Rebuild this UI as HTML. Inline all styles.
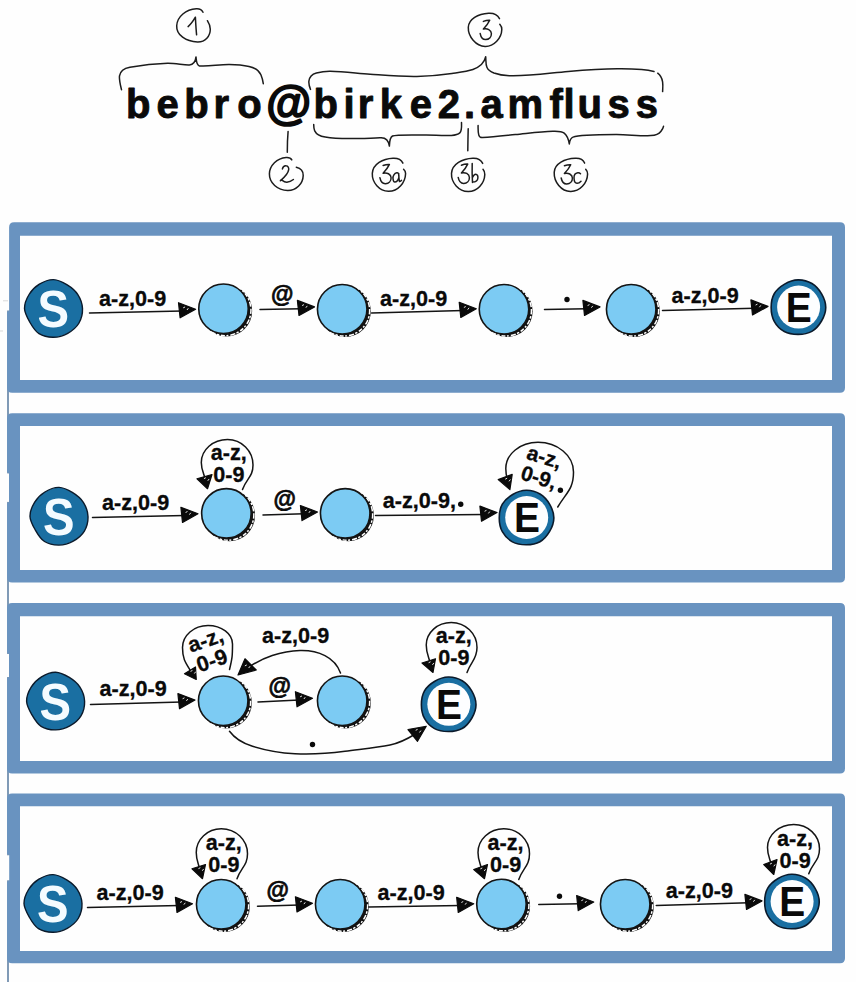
<!DOCTYPE html>
<html><head><meta charset="utf-8"><title>Email automata</title>
<style>
html,body{margin:0;padding:0;background:#fefefe;}
body{width:856px;height:982px;overflow:hidden;font-family:"Liberation Sans",sans-serif;}
svg{display:block;font-family:"Liberation Sans",sans-serif;}
</style></head><body>
<svg width="856" height="982" viewBox="0 0 856 982">
<rect width="856" height="982" fill="#fefefe"/>
<path d="M3,300.8 H8 M0,331 H3" stroke="#d9d9d9" stroke-width="1"/>
<rect x="7.1" y="310.5" width="1.8" height="672" fill="#7390ae"/>
<rect x="6" y="473.4" width="3.1" height="28.5" fill="#fefefe"/>
<rect x="6" y="654" width="3.1" height="23" fill="#fefefe"/>
<rect x="6" y="855.3" width="3.1" height="25" fill="#fefefe"/>
<!-- boxes -->
<path d="M14.1,222.3 H840 Q845,222.3 845,227.3 V387.7 Q845,392.7 840,392.7 H12.1 Q7.1,392.7 7.1,387.7 V312 L9.1,310.5 V227.3 Q9.1,222.3 14.1,222.3 Z M20,235.7 V380 H832 V235.7 Z" fill="#6993c0" fill-rule="evenodd"/>
<path d="M12.1,413.2 H840 Q845,413.2 845,418.2 V577.5 Q845,582.5 840,582.5 H12.1 Q7.1,582.5 7.1,577.5 V503.4 L9,501.9 V473.4 L7.1,471.9 V418.2 Q7.1,413.2 12.1,413.2 Z M20,426 V570 H832 V426 Z" fill="#6993c0" fill-rule="evenodd"/>
<path d="M12.1,603.1 H840 Q845,603.1 845,608.1 V768.5 Q845,773.5 840,773.5 H12.1 Q7.1,773.5 7.1,768.5 V678.5 L9,677 V654 L7.1,652.5 V608.1 Q7.1,603.1 12.1,603.1 Z M20,616.2 V761 H832 V616.2 Z" fill="#6993c0" fill-rule="evenodd"/>
<path d="M12.1,793.4 H840 Q845,793.4 845,798.4 V958.3 Q845,963.3 840,963.3 H12.1 Q7.1,963.3 7.1,958.3 V881.8 L9.2,880.3 V855.3 L7.1,853.8 V798.4 Q7.1,793.4 12.1,793.4 Z M20,806.2 V951.1 H832 V806.2 Z" fill="#6993c0" fill-rule="evenodd"/>
<!-- header -->
<g stroke="#1c1c1c" stroke-width="1.5" fill="none" stroke-linecap="round" stroke-linejoin="round">
<path d="M121.5,89.7 C120.4,85 119,80 119.5,75.8 C120.3,70.5 124,68.3 129.9,67.2 C142,65 155,63.6 167.6,63.3 C176,63.2 184,65.2 189.4,64.9 C194.6,64.5 195.6,60.5 196,56.9 C196.4,61 196.4,65.3 199.4,65.9 C208,66.8 219,64.4 229.2,64.5 C236,64.6 243,65.1 249,66.4 C255.5,67.8 259,70.5 260.9,74.8 C262.2,77.8 262.9,81 263.3,83.7"/>
<path d="M203,12.3 C201.6,9.2 199.5,8.6 196.3,8.8 C186,9.4 177.3,16.5 176.7,25.7 C176.2,35 186,41.6 197.5,42 C205.5,42.2 210.2,36 210.3,29.2 C210.3,26 209,23.2 207.4,20.7"/>
<path d="M188.1,26.6 C191,24.2 193.4,20.6 195.4,17.2 C195.7,23 196,29 196.6,34.8"/>
<path d="M288.1,131.4 C287.5,138 287.3,145 287.3,152.2"/>
<path d="M291.8,159.9 C290.6,157.6 288.6,157.3 286.1,157.5 C277,158.2 269.6,165.5 269.4,173.8 C269.2,183 277.5,190.3 287.7,190.5 C296.5,190.6 303,183.5 303.2,175.4 C303.3,171 300,168.2 296.3,167.3"/>
<path d="M282.4,168.9 C283,166.6 284.6,165.6 286.1,165.8 C288,166 289,167.6 288.7,169.7 C288,174.5 283.6,178 280.4,180.7 C280.6,179.8 281.3,179.6 281.9,180.1 C283.4,181.3 285,182.4 286.9,182.3 C289.4,182.1 291.6,180.9 293.4,179.5"/>
<path d="M310.5,89.4 C309.3,86.5 308.6,84 308.9,81.2 C309.4,76.8 312,74.2 316.4,73 C320.5,71.9 325.5,71.1 330.4,71.2 C344,71.6 357,73.3 370.1,74.2 C385.5,75.3 401,76.8 416.8,76.5 C428.6,76.2 440.5,75.2 451.9,73.5 C459.2,72.4 467,71.5 472.9,69.5 C480.5,66.8 484.6,62 485.7,56.7 C486,60.5 485.6,64.3 486.9,67.2 C488.2,70.2 490.8,71.8 493.9,73 C498.6,74.7 504,75.5 509.3,75.7 C529,76.3 548.5,73.2 568.1,71.5 C584.4,70.1 600.8,68.9 617.2,68.8 C625.4,68.7 633.6,68.9 641.7,69.5 C645.9,69.9 650,70.5 654,71.5"/>
<path d="M657.7,73.2 C660.5,75.3 662,78.4 662.6,81.8 C663.1,85 662.8,88.4 662.6,91.6"/>
<path d="M499.5,18.6 C497.2,14.2 493.5,12.9 488.6,13.2 C478,13.8 468.7,19 468.3,27.3 C467.9,36.5 476,46.2 485.1,46.4 C494,46.6 501.6,38 501.8,29.4 C501.9,27.4 501,25.6 499.8,24.2"/>
<path transform="translate(0,0)" d="M483.4,21.4 C485.4,20.6 487.7,20.2 489.7,20.3 C488.2,23.6 485.8,26.6 483.4,29.1 C487.2,28.2 491.3,29.9 491.4,33.6 C491.5,37.2 488.9,39.5 485.8,39.6 C482.8,39.7 480.8,36.8 480.2,33.6"/>
<path d="M313.7,124.5 C313.7,126.8 313.8,129 314.7,130.8 C316.5,134.6 320.6,136.3 325.2,137.1 C334,138.6 343.5,138.7 352.6,138.6 C361.7,138.5 371,138.6 379.9,137.7 C385.8,137.1 388.6,140.5 389.4,146.1 C389.6,141.5 389.6,137.6 392.5,136 C396,134.4 414.5,135 426.2,135 C434.6,135 443,135.9 451.4,135.4 C454.8,135.2 458,134.6 459.8,132.9 C462,130.8 461.6,126 461.5,122.4"/>
<path d="M402.9,163.1 C401,159 397.5,158 393,158.2 C383,158.6 372.8,164 372.3,173.4 C371.9,182.6 379.4,191 388.4,191.2 C397.8,191.4 405.4,182.8 405.6,173.4 C405.6,171.8 404.8,170.4 403.6,169.3"/>
<path transform="translate(-100.3,144.1)" d="M483.4,21.4 C485.4,20.6 487.7,20.2 489.7,20.3 C488.2,23.6 485.8,26.6 483.4,29.1 C487.2,28.2 491.3,29.9 491.4,33.6 C491.5,37.2 488.9,39.5 485.8,39.6 C482.8,39.7 480.8,36.8 480.2,33.6"/>
<path d="M398.6,173.6 C398,172.8 397.4,172.7 396.8,172.8 C394.4,173.3 392.7,176 393,178.6 C393.2,180.7 393.7,182 394.8,182.1 C396.8,182.2 398.3,179.6 398.9,177.5 C399,176.2 398.8,174.8 398.6,173.4 C398.8,176.2 398.9,179 399.5,181.5 C400.3,181.6 401,181.1 401.5,180.4"/>
<path d="M468.2,128.7 C468,136 467.9,143.5 467.8,150.8"/>
<path d="M482.7,163.4 C480.8,159.2 477.3,158 472.8,158.2 C462.5,158.6 452,164 451.5,173.4 C451.1,182.8 458.8,191.3 468.1,191.5 C477.2,191.7 484.5,183.6 484.8,174.5 C484.9,172.5 484.2,170.7 483,169.3"/>
<path transform="translate(-22,143.8)" d="M483.4,21.4 C485.4,20.6 487.7,20.2 489.7,20.3 C488.2,23.6 485.8,26.6 483.4,29.1 C487.2,28.2 491.3,29.9 491.4,33.6 C491.5,37.2 488.9,39.5 485.8,39.6 C482.8,39.7 480.8,36.8 480.2,33.6"/>
<path d="M472.2,163.4 C472,169.8 472.1,176 472.5,182.4 M472.5,177.5 C473.2,175.8 474.3,174.2 475.7,174.2 C477.4,174.2 478,176 477.9,178 C477.7,180.6 475,182 472.5,182.1"/>
<path d="M478.1,125.6 C478,128.8 478,132 478.8,135.1 C479.3,137 480.6,137.7 482.6,137.6 C493.5,137 504.4,135.7 515.3,134.6 C527.8,133.4 540.4,131.6 552.9,131.3 C557,131.2 561.6,131 564.2,133.1 C567.4,135.7 568.6,139.6 569.3,143.9 C569.7,140.8 570.4,138 573,137.1 C577,135.7 601.6,134.7 615.8,134.6 C627.5,134.5 639.3,136 650.9,135.6 C655,135.5 658.8,134.3 661,131.3 C662.2,129.7 663.2,128 663.5,126.3"/>
<path d="M584.6,163.1 C583,159 579.6,158 575.2,158.2 C564.8,158.6 554.6,163.4 554.2,172.2 C553.8,182 561.3,191.3 570.5,191.5 C579.8,191.7 587.3,183.4 587.6,174 C587.7,172.2 586.9,170.6 585.7,169.3"/>
<path transform="translate(81,144.4)" d="M483.4,21.4 C485.4,20.6 487.7,20.2 489.7,20.3 C488.2,23.6 485.8,26.6 483.4,29.1 C487.2,28.2 491.3,29.9 491.4,33.6 C491.5,37.2 488.9,39.5 485.8,39.6 C482.8,39.7 480.8,36.8 480.2,33.6"/>
<path d="M580.5,173.7 C579.7,172.9 578.8,172.7 577.8,172.8 C575.3,173.2 573.9,175.6 574,178 C574.1,180.8 575,183.2 577,183.3 C578.7,183.4 580,182.3 581,181.2"/>
</g>
<g font-size="40" font-weight="700" fill="#0a0a0a" stroke="#0a0a0a" stroke-width="0.9" stroke-linejoin="round">
<text x="126.07" y="117.5">b</text>
<text x="156.5" y="117.5">e</text>
<text x="184.32" y="117.5">b</text>
<text x="213.57" y="117.5">r</text>
<text x="237.13" y="117.5">o</text>
<text x="266.2" y="119.3" font-size="46" stroke-width="1.7">&#64;</text>
<text x="313.57" y="117.5">b</text>
<text x="343.57" y="117.5">i</text>
<text x="357.82" y="117.5">r</text>
<text x="379.82" y="117.5">k</text>
<text x="409.75" y="117.5">e</text>
<text x="437.75" y="117.5">2</text>
<text x="464.1" y="117.5">.</text>
<text x="480.52" y="117.5">a</text>
<text x="507.52" y="117.5">m</text>
<text x="549.57" y="117.5">f</text>
<text x="563.57" y="117.5">l</text>
<text x="577.42" y="117.5">u</text>
<text x="607.52" y="117.5">s</text>
<text x="635.77" y="117.5">s</text>
</g>
<!-- row 1 -->
<path d="M82.5,308.6 C82.67,313.38 81.33,319.14 78.87,323.25 C76.42,327.36 71.98,330.94 67.75,333.28 C63.52,335.62 58.29,337.23 53.5,337.3 C48.71,337.37 42.94,336.22 39,333.71 C35.06,331.21 32.27,326.44 29.86,322.25 C27.44,318.06 24.63,313.22 24.5,308.6 C24.37,303.97 26.59,298.57 29.08,294.5 C31.56,290.43 35.33,286.66 39.4,284.18 C43.47,281.69 48.87,279.48 53.5,279.6 C58.13,279.72 63.14,282.38 67.2,284.87 C71.26,287.36 75.29,290.6 77.84,294.55 C80.39,298.5 82.33,303.82 82.5,308.6 Z" fill="#1a6fa2" stroke="#0b1a2b" stroke-width="1.4"/>
<text transform="translate(53.25,308.6) scale(0.965,1.066)" x="0" y="17.3" font-size="49" font-weight="700" fill="#f4fbff" text-anchor="middle">S</text>
<path d="M89.5,313 L182.3,311" stroke="#141414" stroke-width="1.5" fill="none" stroke-linecap="round"/>
<path d="M178.5,302.7 L180.1,317.8 L195.6,309.2 Z" fill="#0a0a0a" stroke="#0a0a0a" stroke-width="1.2" stroke-linejoin="round"/>
<path d="M183.53,307.7 l1.2,-0.6 M187.23,309.7 l0.9,-1.2" stroke="#fff" stroke-width="0.9" fill="none" stroke-linecap="round"/>
<text x="99" y="305.75" font-size="21.6" font-weight="700" fill="#0a0a0a" stroke="#0a0a0a" stroke-width="0.3" text-anchor="start">a-z,0-9</text>
<circle cx="226.5" cy="310.9" r="25.65" fill="#111"/>
<circle cx="225.4" cy="310.1" r="25.55" fill="none" stroke="#fff" stroke-width="1.5" stroke-dasharray="4 1.8 2.4 1.4 5 2 2 1.6" />
<circle cx="223.5" cy="308.8" r="24.75" fill="#7ccbf3" stroke="#141414" stroke-width="1.6"/>
<path d="M260,309.6 L301.2,308.7" stroke="#141414" stroke-width="1.5" fill="none" stroke-linecap="round"/>
<path d="M297.4,300.4 L299,315.5 L314.5,306.9 Z" fill="#0a0a0a" stroke="#0a0a0a" stroke-width="1.2" stroke-linejoin="round"/>
<path d="M302.43,305.4 l1.2,-0.6 M306.13,307.4 l0.9,-1.2" stroke="#fff" stroke-width="0.9" fill="none" stroke-linecap="round"/>
<text x="271.1" y="301.7" font-size="23" font-weight="700" fill="#0a0a0a" stroke="#0a0a0a" stroke-width="0.7" text-anchor="start">&#64;</text>
<circle cx="345.2" cy="311.3" r="25.65" fill="#111"/>
<circle cx="344.1" cy="310.5" r="25.55" fill="none" stroke="#fff" stroke-width="1.5" stroke-dasharray="4 1.8 2.4 1.4 5 2 2 1.6" />
<circle cx="342.2" cy="309.2" r="24.75" fill="#7ccbf3" stroke="#141414" stroke-width="1.6"/>
<path d="M371.5,313 L463,310.6" stroke="#141414" stroke-width="1.5" fill="none" stroke-linecap="round"/>
<path d="M459.2,302.3 L460.8,317.4 L476.3,308.8 Z" fill="#0a0a0a" stroke="#0a0a0a" stroke-width="1.2" stroke-linejoin="round"/>
<path d="M464.23,307.3 l1.2,-0.6 M467.93,309.3 l0.9,-1.2" stroke="#fff" stroke-width="0.9" fill="none" stroke-linecap="round"/>
<text x="380" y="305.75" font-size="21.6" font-weight="700" fill="#0a0a0a" stroke="#0a0a0a" stroke-width="0.3" text-anchor="start">a-z,0-9</text>
<circle cx="507" cy="311.3" r="25.65" fill="#111"/>
<circle cx="505.9" cy="310.5" r="25.55" fill="none" stroke="#fff" stroke-width="1.5" stroke-dasharray="4 1.8 2.4 1.4 5 2 2 1.6" />
<circle cx="504" cy="309.2" r="24.75" fill="#7ccbf3" stroke="#141414" stroke-width="1.6"/>
<path d="M544.5,309.6 L586.7,308.7" stroke="#141414" stroke-width="1.5" fill="none" stroke-linecap="round"/>
<path d="M582.9,300.4 L584.5,315.5 L600,306.9 Z" fill="#0a0a0a" stroke="#0a0a0a" stroke-width="1.2" stroke-linejoin="round"/>
<path d="M587.93,305.4 l1.2,-0.6 M591.63,307.4 l0.9,-1.2" stroke="#fff" stroke-width="0.9" fill="none" stroke-linecap="round"/>
<circle cx="567" cy="299.5" r="2.7" fill="#0a0a0a"/>
<circle cx="634.2" cy="311.3" r="25.65" fill="#111"/>
<circle cx="633.1" cy="310.5" r="25.55" fill="none" stroke="#fff" stroke-width="1.5" stroke-dasharray="4 1.8 2.4 1.4 5 2 2 1.6" />
<circle cx="631.2" cy="309.2" r="24.75" fill="#7ccbf3" stroke="#141414" stroke-width="1.6"/>
<path d="M662.5,310.6 L754.7,308.2" stroke="#141414" stroke-width="1.5" fill="none" stroke-linecap="round"/>
<path d="M750.9,299.9 L752.5,315 L768,306.4 Z" fill="#0a0a0a" stroke="#0a0a0a" stroke-width="1.2" stroke-linejoin="round"/>
<path d="M755.93,304.9 l1.2,-0.6 M759.63,306.9 l0.9,-1.2" stroke="#fff" stroke-width="0.9" fill="none" stroke-linecap="round"/>
<text x="671.5" y="303" font-size="21.6" font-weight="700" fill="#0a0a0a" stroke="#0a0a0a" stroke-width="0.3" text-anchor="start">a-z,0-9</text>
<path d="M825.75,307.5 C825.74,312.02 823.84,317.05 821.53,321.02 C819.21,325 815.78,329.14 811.88,331.36 C807.97,333.58 802.7,334.34 798.1,334.35 C793.5,334.36 788.25,333.62 784.27,331.45 C780.3,329.27 776.43,325.27 774.24,321.27 C772.05,317.28 771.15,312.09 771.15,307.5 C771.15,302.91 772,297.63 774.24,293.73 C776.48,289.82 780.6,286.39 784.58,284.07 C788.55,281.76 793.54,279.94 798.1,279.85 C802.66,279.76 808.01,281.21 811.93,283.55 C815.84,285.9 819.31,289.93 821.61,293.93 C823.92,297.92 825.76,302.98 825.75,307.5 Z" fill="#1a6fa2" stroke="#0b1a2b" stroke-width="1.6"/>
<circle cx="798.6" cy="307.1" r="21.5" fill="#fdfeff"/>
<text transform="translate(798.8,307.1) scale(0.96,1.045)" x="0" y="14" font-size="40.5" font-weight="700" fill="#0a0a0a" text-anchor="middle">E</text>
<!-- row 2 -->
<path d="M88,516.4 C88.17,521.18 86.83,526.94 84.37,531.05 C81.92,535.16 77.48,538.74 73.25,541.08 C69.02,543.42 63.79,545.03 59,545.1 C54.21,545.17 48.44,544.02 44.5,541.51 C40.56,539.01 37.77,534.24 35.36,530.05 C32.94,525.86 30.13,521.02 30,516.4 C29.87,511.77 32.09,506.37 34.58,502.3 C37.06,498.23 40.83,494.46 44.9,491.98 C48.97,489.49 54.37,487.28 59,487.4 C63.63,487.52 68.64,490.18 72.7,492.67 C76.76,495.16 80.79,498.4 83.34,502.35 C85.89,506.3 87.83,511.62 88,516.4 Z" fill="#1a6fa2" stroke="#0b1a2b" stroke-width="1.4"/>
<text transform="translate(58.75,516.4) scale(0.965,1.066)" x="0" y="17.3" font-size="49" font-weight="700" fill="#f4fbff" text-anchor="middle">S</text>
<path d="M92.5,517.6 L184.7,515.6" stroke="#141414" stroke-width="1.5" fill="none" stroke-linecap="round"/>
<path d="M180.9,507.3 L182.5,522.4 L198,513.8 Z" fill="#0a0a0a" stroke="#0a0a0a" stroke-width="1.2" stroke-linejoin="round"/>
<path d="M185.93,512.3 l1.2,-0.6 M189.63,514.3 l0.9,-1.2" stroke="#fff" stroke-width="0.9" fill="none" stroke-linecap="round"/>
<text x="102" y="509.5" font-size="21.6" font-weight="700" fill="#0a0a0a" stroke="#0a0a0a" stroke-width="0.3" text-anchor="start">a-z,0-9</text>
<circle cx="229.4" cy="515.5" r="25.65" fill="#111"/>
<circle cx="228.3" cy="514.7" r="25.55" fill="none" stroke="#fff" stroke-width="1.5" stroke-dasharray="4 1.8 2.4 1.4 5 2 2 1.6" />
<circle cx="226.4" cy="513.4" r="24.75" fill="#7ccbf3" stroke="#141414" stroke-width="1.6"/>
<path d="M242.5,489.5 C246.46,478.18 253,476.99 253,465 C253,450.92 241.58,439.5 227.5,439.5 C213.03,439.5 201.3,449.8 201.3,462.5 C201.3,472.45 205.02,474.16 206.5,484" stroke="#141414" stroke-width="1.5" fill="none" stroke-linecap="round"/>
<path d="M197,478.75 L212,474.5 L207.5,488.75 Z" fill="#0a0a0a" stroke="#0a0a0a" stroke-width="1.2" stroke-linejoin="round"/>
<path d="M204.3,478.47 l1.2,-0.6 M208,480.47 l0.9,-1.2" stroke="#fff" stroke-width="0.9" fill="none" stroke-linecap="round"/>
<text x="210.8" y="460" font-size="21.6" font-weight="700" fill="#0a0a0a" stroke="#0a0a0a" stroke-width="0.3" text-anchor="start">a-z,</text>
<text x="213.3" y="482" font-size="21.6" font-weight="700" fill="#0a0a0a" stroke="#0a0a0a" stroke-width="0.3" text-anchor="start">0-9</text>
<path d="M263,515 L304.2,513.8" stroke="#141414" stroke-width="1.5" fill="none" stroke-linecap="round"/>
<path d="M300.4,505.5 L302,520.6 L317.5,512 Z" fill="#0a0a0a" stroke="#0a0a0a" stroke-width="1.2" stroke-linejoin="round"/>
<path d="M305.43,510.5 l1.2,-0.6 M309.13,512.5 l0.9,-1.2" stroke="#fff" stroke-width="0.9" fill="none" stroke-linecap="round"/>
<text x="273.6" y="507.3" font-size="23" font-weight="700" fill="#0a0a0a" stroke="#0a0a0a" stroke-width="0.7" text-anchor="start">&#64;</text>
<circle cx="348.2" cy="515.5" r="25.65" fill="#111"/>
<circle cx="347.1" cy="514.7" r="25.55" fill="none" stroke="#fff" stroke-width="1.5" stroke-dasharray="4 1.8 2.4 1.4 5 2 2 1.6" />
<circle cx="345.2" cy="513.4" r="24.75" fill="#7ccbf3" stroke="#141414" stroke-width="1.6"/>
<path d="M375.5,515.6 L483.7,514.4" stroke="#141414" stroke-width="1.5" fill="none" stroke-linecap="round"/>
<path d="M479.9,506.1 L481.5,521.2 L497,512.6 Z" fill="#0a0a0a" stroke="#0a0a0a" stroke-width="1.2" stroke-linejoin="round"/>
<path d="M484.93,511.1 l1.2,-0.6 M488.63,513.1 l0.9,-1.2" stroke="#fff" stroke-width="0.9" fill="none" stroke-linecap="round"/>
<text x="382.8" y="508" font-size="21.6" font-weight="700" fill="#0a0a0a" stroke="#0a0a0a" stroke-width="0.3" text-anchor="start">a-z,0-9,</text>
<circle cx="460.75" cy="504.25" r="2.7" fill="#0a0a0a"/>
<path d="M553.85,517.9 C553.84,522.42 551.94,527.45 549.63,531.43 C547.31,535.4 543.88,539.54 539.98,541.76 C536.07,543.98 530.8,544.74 526.2,544.75 C521.6,544.76 516.35,544.02 512.38,541.85 C508.4,539.67 504.53,535.67 502.34,531.68 C500.15,527.68 499.25,522.49 499.25,517.9 C499.25,513.31 500.1,508.03 502.34,504.13 C504.58,500.22 508.7,496.79 512.68,494.47 C516.65,492.16 521.64,490.34 526.2,490.25 C530.76,490.16 536.11,491.61 540.03,493.95 C543.94,496.3 547.41,500.33 549.71,504.33 C552.02,508.32 553.86,513.38 553.85,517.9 Z" fill="#1a6fa2" stroke="#0b1a2b" stroke-width="1.6"/>
<circle cx="526.7" cy="517.5" r="21.5" fill="#fdfeff"/>
<text transform="translate(526.9,517.5) scale(0.96,1.045)" x="0" y="14" font-size="40.5" font-weight="700" fill="#0a0a0a" text-anchor="middle">E</text>
<path d="M557.75,507 C566.64,492.19 573.5,489.27 573.5,472 C573.5,455.6 557.61,442.3 538,442.3 C520.22,442.3 505.8,454.03 505.8,468.5 C505.8,476.03 507.12,477.62 508.6,485" stroke="#141414" stroke-width="1.5" fill="none" stroke-linecap="round"/>
<path d="M498.2,479.6 L512.2,474.4 L509.9,489.6 Z" fill="#0a0a0a" stroke="#0a0a0a" stroke-width="1.2" stroke-linejoin="round"/>
<path d="M505.57,479 l1.2,-0.6 M509.27,481 l0.9,-1.2" stroke="#fff" stroke-width="0.9" fill="none" stroke-linecap="round"/>
<text x="525.6" y="458.8" font-size="21" font-weight="700" fill="#0a0a0a" stroke="#0a0a0a" stroke-width="0.3" text-anchor="start" transform="rotate(17 525.6 458.8)">a-z,</text>
<text x="519.4" y="479" font-size="21" font-weight="700" fill="#0a0a0a" stroke="#0a0a0a" stroke-width="0.3" text-anchor="start" transform="rotate(17 519.4 479)">0-9,</text>
<circle cx="560.4" cy="490.2" r="2.7" fill="#0a0a0a"/>
<!-- row 3 -->
<path d="M84.6,701.2 C84.77,705.98 83.43,711.74 80.97,715.85 C78.52,719.96 74.08,723.54 69.85,725.88 C65.62,728.22 60.39,729.83 55.6,729.9 C50.81,729.97 45.04,728.82 41.1,726.31 C37.16,723.81 34.37,719.04 31.96,714.85 C29.54,710.66 26.73,705.82 26.6,701.2 C26.47,696.57 28.69,691.17 31.18,687.1 C33.66,683.03 37.43,679.26 41.5,676.78 C45.57,674.29 50.97,672.08 55.6,672.2 C60.23,672.32 65.24,674.98 69.3,677.47 C73.36,679.96 77.39,683.2 79.94,687.15 C82.49,691.1 84.43,696.42 84.6,701.2 Z" fill="#1a6fa2" stroke="#0b1a2b" stroke-width="1.4"/>
<text transform="translate(55.35,701.2) scale(0.965,1.066)" x="0" y="17.3" font-size="49" font-weight="700" fill="#f4fbff" text-anchor="middle">S</text>
<path d="M90.5,704.5 L181.7,701.9" stroke="#141414" stroke-width="1.5" fill="none" stroke-linecap="round"/>
<path d="M177.9,693.6 L179.5,708.7 L195,700.1 Z" fill="#0a0a0a" stroke="#0a0a0a" stroke-width="1.2" stroke-linejoin="round"/>
<path d="M182.93,698.6 l1.2,-0.6 M186.63,700.6 l0.9,-1.2" stroke="#fff" stroke-width="0.9" fill="none" stroke-linecap="round"/>
<text x="99.5" y="696.25" font-size="21.6" font-weight="700" fill="#0a0a0a" stroke="#0a0a0a" stroke-width="0.3" text-anchor="start">a-z,0-9</text>
<circle cx="226.2" cy="702.9" r="25.65" fill="#111"/>
<circle cx="225.1" cy="702.1" r="25.55" fill="none" stroke="#fff" stroke-width="1.5" stroke-dasharray="4 1.8 2.4 1.4 5 2 2 1.6" />
<circle cx="223.2" cy="700.8" r="24.75" fill="#7ccbf3" stroke="#141414" stroke-width="1.6"/>
<path d="M229.5,669.5 C232.3,658.29 232.5,655.55 232.5,644 C232.5,633.78 221.53,625.5 208,625.5 C193.92,625.5 182.5,635.35 182.5,647.5 C182.5,661.04 186.54,663.89 193.5,675.5" stroke="#141414" stroke-width="1.5" fill="none" stroke-linecap="round"/>
<path d="M184.5,673.75 L195.5,667 L196.25,679.5 Z" fill="#0a0a0a" stroke="#0a0a0a" stroke-width="1.2" stroke-linejoin="round"/>
<path d="M190.88,671.22 l1.2,-0.6 M194.58,673.22 l0.9,-1.2" stroke="#fff" stroke-width="0.9" fill="none" stroke-linecap="round"/>
<text x="190.8" y="652.8" font-size="21.6" font-weight="700" fill="#0a0a0a" stroke="#0a0a0a" stroke-width="0.3" text-anchor="start" transform="rotate(-19 190.8 652.8)">a-z,</text>
<text x="199.6" y="672.6" font-size="21.6" font-weight="700" fill="#0a0a0a" stroke="#0a0a0a" stroke-width="0.3" text-anchor="start" transform="rotate(-19 199.6 672.6)">0-9</text>
<path d="M340.5,673 C335,657 318,650 300,650.5 C281,651 262,658 249,667" stroke="#141414" stroke-width="1.5" fill="none" stroke-linecap="round"/>
<path d="M245,658.75 L256.25,670 L238,675 Z" fill="#0a0a0a" stroke="#0a0a0a" stroke-width="1.2" stroke-linejoin="round"/>
<path d="M245.22,665.72 l1.2,-0.6 M248.92,667.72 l0.9,-1.2" stroke="#fff" stroke-width="0.9" fill="none" stroke-linecap="round"/>
<text x="262" y="642.5" font-size="21.6" font-weight="700" fill="#0a0a0a" stroke="#0a0a0a" stroke-width="0.3" text-anchor="start">a-z,0-9</text>
<path d="M258,702 L299.2,700" stroke="#141414" stroke-width="1.5" fill="none" stroke-linecap="round"/>
<path d="M295.4,691.7 L297,706.8 L312.5,698.2 Z" fill="#0a0a0a" stroke="#0a0a0a" stroke-width="1.2" stroke-linejoin="round"/>
<path d="M300.43,696.7 l1.2,-0.6 M304.13,698.7 l0.9,-1.2" stroke="#fff" stroke-width="0.9" fill="none" stroke-linecap="round"/>
<text x="268.6" y="693.7" font-size="23" font-weight="700" fill="#0a0a0a" stroke="#0a0a0a" stroke-width="0.7" text-anchor="start">&#64;</text>
<circle cx="345.2" cy="702.9" r="25.65" fill="#111"/>
<circle cx="344.1" cy="702.1" r="25.55" fill="none" stroke="#fff" stroke-width="1.5" stroke-dasharray="4 1.8 2.4 1.4 5 2 2 1.6" />
<circle cx="342.2" cy="700.8" r="24.75" fill="#7ccbf3" stroke="#141414" stroke-width="1.6"/>
<path d="M229.5,731.25 C236,740 243.5,743.5 252.5,746.25 C266,750.5 280.5,753 295,753.75 C312,754.6 329,753.4 345,751.25 C360,749.2 376,747.6 390,745 C400,743 408,738.5 414.5,734.5" stroke="#141414" stroke-width="1.5" fill="none" stroke-linecap="round"/>
<path d="M408,729.5 L417.5,741.25 L426.25,726.25 Z" fill="#0a0a0a" stroke="#0a0a0a" stroke-width="1.2" stroke-linejoin="round"/>
<path d="M416.05,730.13 l1.2,-0.6 M419.75,732.13 l0.9,-1.2" stroke="#fff" stroke-width="0.9" fill="none" stroke-linecap="round"/>
<circle cx="312.5" cy="744.5" r="2.7" fill="#0a0a0a"/>
<path d="M476,704.7 C475.99,709.22 474.09,714.25 471.78,718.23 C469.46,722.2 466.03,726.34 462.12,728.56 C458.22,730.78 452.95,731.54 448.35,731.55 C443.75,731.56 438.5,730.82 434.53,728.65 C430.55,726.47 426.68,722.47 424.49,718.48 C422.3,714.48 421.4,709.29 421.4,704.7 C421.4,700.11 422.25,694.83 424.49,690.93 C426.73,687.02 430.85,683.59 434.82,681.27 C438.8,678.96 443.79,677.14 448.35,677.05 C452.91,676.96 458.26,678.41 462.18,680.75 C466.09,683.1 469.56,687.13 471.86,691.12 C474.17,695.12 476.01,700.18 476,704.7 Z" fill="#1a6fa2" stroke="#0b1a2b" stroke-width="1.6"/>
<circle cx="448.85" cy="704.3" r="21.5" fill="#fdfeff"/>
<text transform="translate(449.05,704.3) scale(0.96,1.045)" x="0" y="14" font-size="40.5" font-weight="700" fill="#0a0a0a" text-anchor="middle">E</text>
<path d="M467,672.5 C471,661.06 477,659.62 477,647.5 C477,633.69 465.47,622.5 451.25,622.5 C437.44,622.5 426.25,632.57 426.25,645 C426.25,655.13 429.5,656.98 431,667" stroke="#141414" stroke-width="1.5" fill="none" stroke-linecap="round"/>
<path d="M422,663 L435.5,658.75 L433,672.5 Z" fill="#0a0a0a" stroke="#0a0a0a" stroke-width="1.2" stroke-linejoin="round"/>
<path d="M428.97,662.55 l1.2,-0.6 M432.67,664.55 l0.9,-1.2" stroke="#fff" stroke-width="0.9" fill="none" stroke-linecap="round"/>
<text x="435.8" y="643.25" font-size="21.6" font-weight="700" fill="#0a0a0a" stroke="#0a0a0a" stroke-width="0.3" text-anchor="start">a-z,</text>
<text x="438.3" y="665" font-size="21.6" font-weight="700" fill="#0a0a0a" stroke="#0a0a0a" stroke-width="0.3" text-anchor="start">0-9</text>
<!-- row 4 -->
<path d="M82,903.6 C82.17,908.38 80.83,914.14 78.37,918.25 C75.92,922.36 71.48,925.94 67.25,928.28 C63.02,930.62 57.79,932.23 53,932.3 C48.21,932.37 42.44,931.22 38.5,928.71 C34.56,926.21 31.77,921.44 29.36,917.25 C26.94,913.06 24.13,908.23 24,903.6 C23.87,898.98 26.09,893.57 28.58,889.5 C31.06,885.43 34.83,881.66 38.9,879.18 C42.97,876.69 48.37,874.48 53,874.6 C57.63,874.72 62.64,877.38 66.7,879.87 C70.76,882.36 74.79,885.6 77.34,889.55 C79.89,893.5 81.83,898.82 82,903.6 Z" fill="#1a6fa2" stroke="#0b1a2b" stroke-width="1.4"/>
<text transform="translate(52.75,903.6) scale(0.965,1.066)" x="0" y="17.3" font-size="49" font-weight="700" fill="#f4fbff" text-anchor="middle">S</text>
<path d="M87.5,907.6 L179.2,905.6" stroke="#141414" stroke-width="1.5" fill="none" stroke-linecap="round"/>
<path d="M175.4,897.3 L177,912.4 L192.5,903.8 Z" fill="#0a0a0a" stroke="#0a0a0a" stroke-width="1.2" stroke-linejoin="round"/>
<path d="M180.43,902.3 l1.2,-0.6 M184.13,904.3 l0.9,-1.2" stroke="#fff" stroke-width="0.9" fill="none" stroke-linecap="round"/>
<text x="96.5" y="899.5" font-size="21.6" font-weight="700" fill="#0a0a0a" stroke="#0a0a0a" stroke-width="0.3" text-anchor="start">a-z,0-9</text>
<circle cx="224.2" cy="906.4" r="25.65" fill="#111"/>
<circle cx="223.1" cy="905.6" r="25.55" fill="none" stroke="#fff" stroke-width="1.5" stroke-dasharray="4 1.8 2.4 1.4 5 2 2 1.6" />
<circle cx="221.2" cy="904.3" r="24.75" fill="#7ccbf3" stroke="#141414" stroke-width="1.6"/>
<path d="M237,878.75 C241.03,867.23 247.5,865.95 247.5,853.75 C247.5,839.94 235.75,828.75 221.25,828.75 C207.44,828.75 196.25,839.38 196.25,852.5 C196.25,861.92 199.1,863.68 200.5,873" stroke="#141414" stroke-width="1.5" fill="none" stroke-linecap="round"/>
<path d="M192,868.75 L205.5,864.5 L202.5,878.75 Z" fill="#0a0a0a" stroke="#0a0a0a" stroke-width="1.2" stroke-linejoin="round"/>
<path d="M198.8,868.47 l1.2,-0.6 M202.5,870.47 l0.9,-1.2" stroke="#fff" stroke-width="0.9" fill="none" stroke-linecap="round"/>
<text x="205.8" y="850" font-size="21.6" font-weight="700" fill="#0a0a0a" stroke="#0a0a0a" stroke-width="0.3" text-anchor="start">a-z,</text>
<text x="208.3" y="872" font-size="21.6" font-weight="700" fill="#0a0a0a" stroke="#0a0a0a" stroke-width="0.3" text-anchor="start">0-9</text>
<path d="M257.5,906.3 L299.2,905.1" stroke="#141414" stroke-width="1.5" fill="none" stroke-linecap="round"/>
<path d="M295.4,896.8 L297,911.9 L312.5,903.3 Z" fill="#0a0a0a" stroke="#0a0a0a" stroke-width="1.2" stroke-linejoin="round"/>
<path d="M300.43,901.8 l1.2,-0.6 M304.13,903.8 l0.9,-1.2" stroke="#fff" stroke-width="0.9" fill="none" stroke-linecap="round"/>
<text x="266.6" y="898.3" font-size="23" font-weight="700" fill="#0a0a0a" stroke="#0a0a0a" stroke-width="0.7" text-anchor="start">&#64;</text>
<circle cx="343.2" cy="906.4" r="25.65" fill="#111"/>
<circle cx="342.1" cy="905.6" r="25.55" fill="none" stroke="#fff" stroke-width="1.5" stroke-dasharray="4 1.8 2.4 1.4 5 2 2 1.6" />
<circle cx="340.2" cy="904.3" r="24.75" fill="#7ccbf3" stroke="#141414" stroke-width="1.6"/>
<path d="M368.75,907.1 L460.45,905.6" stroke="#141414" stroke-width="1.5" fill="none" stroke-linecap="round"/>
<path d="M456.65,897.3 L458.25,912.4 L473.75,903.8 Z" fill="#0a0a0a" stroke="#0a0a0a" stroke-width="1.2" stroke-linejoin="round"/>
<path d="M461.68,902.3 l1.2,-0.6 M465.38,904.3 l0.9,-1.2" stroke="#fff" stroke-width="0.9" fill="none" stroke-linecap="round"/>
<text x="377.5" y="899.5" font-size="21.6" font-weight="700" fill="#0a0a0a" stroke="#0a0a0a" stroke-width="0.3" text-anchor="start">a-z,0-9</text>
<circle cx="504.45" cy="906.1" r="25.65" fill="#111"/>
<circle cx="503.35" cy="905.3" r="25.55" fill="none" stroke="#fff" stroke-width="1.5" stroke-dasharray="4 1.8 2.4 1.4 5 2 2 1.6" />
<circle cx="501.45" cy="904" r="24.75" fill="#7ccbf3" stroke="#141414" stroke-width="1.6"/>
<path d="M518.75,879.5 C522.9,867.65 529.5,866.31 529.5,853.75 C529.5,839.94 517.97,828.75 503.75,828.75 C489.53,828.75 478,839.38 478,852.5 C478,861.94 481.1,863.66 482.5,873" stroke="#141414" stroke-width="1.5" fill="none" stroke-linecap="round"/>
<path d="M473.75,869.5 L487.5,864.5 L484.5,878.75 Z" fill="#0a0a0a" stroke="#0a0a0a" stroke-width="1.2" stroke-linejoin="round"/>
<path d="M480.72,868.72 l1.2,-0.6 M484.42,870.72 l0.9,-1.2" stroke="#fff" stroke-width="0.9" fill="none" stroke-linecap="round"/>
<text x="487.5" y="850" font-size="21.6" font-weight="700" fill="#0a0a0a" stroke="#0a0a0a" stroke-width="0.3" text-anchor="start">a-z,</text>
<text x="490" y="872" font-size="21.6" font-weight="700" fill="#0a0a0a" stroke="#0a0a0a" stroke-width="0.3" text-anchor="start">0-9</text>
<path d="M538.75,904.5 L580.45,903.8" stroke="#141414" stroke-width="1.5" fill="none" stroke-linecap="round"/>
<path d="M576.65,895.5 L578.25,910.6 L593.75,902 Z" fill="#0a0a0a" stroke="#0a0a0a" stroke-width="1.2" stroke-linejoin="round"/>
<path d="M581.68,900.5 l1.2,-0.6 M585.38,902.5 l0.9,-1.2" stroke="#fff" stroke-width="0.9" fill="none" stroke-linecap="round"/>
<circle cx="559.5" cy="896.25" r="2.7" fill="#0a0a0a"/>
<circle cx="628.2" cy="906.4" r="25.65" fill="#111"/>
<circle cx="627.1" cy="905.6" r="25.55" fill="none" stroke="#fff" stroke-width="1.5" stroke-dasharray="4 1.8 2.4 1.4 5 2 2 1.6" />
<circle cx="625.2" cy="904.3" r="24.75" fill="#7ccbf3" stroke="#141414" stroke-width="1.6"/>
<path d="M656.25,905.6 L748.7,902.7" stroke="#141414" stroke-width="1.5" fill="none" stroke-linecap="round"/>
<path d="M744.9,894.4 L746.5,909.5 L762,900.9 Z" fill="#0a0a0a" stroke="#0a0a0a" stroke-width="1.2" stroke-linejoin="round"/>
<path d="M749.93,899.4 l1.2,-0.6 M753.63,901.4 l0.9,-1.2" stroke="#fff" stroke-width="0.9" fill="none" stroke-linecap="round"/>
<text x="665.8" y="897.5" font-size="21.6" font-weight="700" fill="#0a0a0a" stroke="#0a0a0a" stroke-width="0.3" text-anchor="start">a-z,0-9</text>
<path d="M819.25,901.9 C819.24,906.42 817.34,911.45 815.03,915.43 C812.71,919.4 809.28,923.54 805.38,925.76 C801.47,927.98 796.2,928.74 791.6,928.75 C787,928.76 781.75,928.02 777.77,925.85 C773.8,923.67 769.93,919.67 767.74,915.68 C765.55,911.68 764.65,906.49 764.65,901.9 C764.65,897.31 765.5,892.03 767.74,888.13 C769.98,884.22 774.1,880.79 778.08,878.47 C782.05,876.16 787.04,874.34 791.6,874.25 C796.16,874.16 801.51,875.61 805.43,877.95 C809.34,880.3 812.81,884.33 815.11,888.33 C817.42,892.32 819.26,897.38 819.25,901.9 Z" fill="#1a6fa2" stroke="#0b1a2b" stroke-width="1.6"/>
<circle cx="792.1" cy="901.5" r="21.5" fill="#fdfeff"/>
<text transform="translate(792.3,901.5) scale(0.96,1.045)" x="0" y="14" font-size="40.5" font-weight="700" fill="#0a0a0a" text-anchor="middle">E</text>
<path d="M808.75,873.75 C812.8,862.19 819.5,861 819.5,848.75 C819.5,835.36 807.97,824.5 793.75,824.5 C779.25,824.5 767.5,834.8 767.5,847.5 C767.5,856.94 770.6,858.66 772,868" stroke="#141414" stroke-width="1.5" fill="none" stroke-linecap="round"/>
<path d="M763.75,864.5 L777,859.5 L773.75,874.5 Z" fill="#0a0a0a" stroke="#0a0a0a" stroke-width="1.2" stroke-linejoin="round"/>
<path d="M770.3,863.97 l1.2,-0.6 M774,865.97 l0.9,-1.2" stroke="#fff" stroke-width="0.9" fill="none" stroke-linecap="round"/>
<text x="777" y="845.5" font-size="21.6" font-weight="700" fill="#0a0a0a" stroke="#0a0a0a" stroke-width="0.3" text-anchor="start">a-z,</text>
<text x="779.5" y="867.5" font-size="21.6" font-weight="700" fill="#0a0a0a" stroke="#0a0a0a" stroke-width="0.3" text-anchor="start">0-9</text>
</svg></body></html>
